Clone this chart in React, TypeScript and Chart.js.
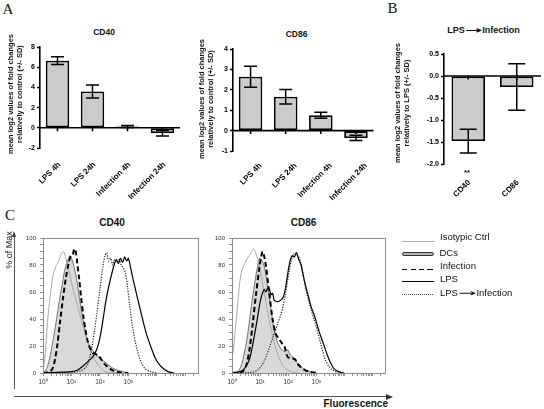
import React, { useEffect, useRef } from 'react';
import { Chart, registerables } from 'chart.js';

Chart.register(...registerables);

const SANS = "Arial, 'Liberation Sans', Helvetica, sans-serif";
const SERIF = "'Times New Roman', 'Liberation Serif', serif";

// ---------- Panel A : bar charts ----------
const aCategories = ['LPS 4h', 'LPS 24h', 'Infection 4h', 'Infection 24h'];
const cd40Means = [6.65, 3.6, 0.12, -0.53];
const cd40Sd = [0.38, 0.65, 0.1, 0.27];
const cd86Means = [2.64, 1.66, 0.75, -0.36];
const cd86Sd = [0.51, 0.35, 0.15, 0.13];

// ---------- Panel B ----------
const bCategories = ['CD40', 'CD86'];
const bMeans = [-1.48, -0.25];
const bSd = [0.27, 0.53];

// ---------- Panel C : histograms (x = log10 fluorescence, y = % of max) ----------
const histXTickLabels = ['10\u2070', '10\u00b9', '10\u00b2', '10\u00b3'];
const histYTickLabels = [0, 20, 40, 60, 80, 100];

const cd40IsoX = [0, 0.05, 0.1, 0.18, 0.27, 0.35, 0.45, 0.53, 0.6, 0.66, 0.72, 0.8, 0.9, 1.0, 1.12, 1.24, 1.35, 1.47, 1.58, 1.7, 1.82, 1.94, 2.06, 2.18, 2.35, 2.6];
const cd40IsoY = [2, 8, 20, 43, 60, 72, 79, 82, 86, 89, 90, 85, 77, 67, 57, 48, 39, 30, 22, 16, 10, 6, 3, 1, 0.5, 0];
const cd40DcX = [0, 0.1, 0.2, 0.3, 0.4, 0.5, 0.6, 0.68, 0.75, 0.83, 0.9, 0.95, 1.02, 1.1, 1.18, 1.25, 1.32, 1.4, 1.47, 1.55, 1.63, 1.71, 1.8, 1.88, 2.0, 2.12, 2.24, 2.36, 2.5, 2.65, 2.8, 3.0];
const cd40DcY = [0.5, 2, 8, 18, 30, 43, 57, 66, 75, 81, 85, 87, 84, 78, 70, 60, 50, 40, 33, 25, 21, 18, 15, 13, 11, 9, 7, 5, 3, 2, 1, 0];
const cd40InfX = [0, 0.25, 0.35, 0.42, 0.5, 0.6, 0.7, 0.8, 0.9, 0.98, 1.05, 1.1, 1.15, 1.2, 1.27, 1.34, 1.42, 1.5, 1.58, 1.66, 1.75, 1.85, 1.95, 2.05, 2.15, 2.25, 2.4, 2.55, 2.75, 3.0];
const cd40InfY = [0, 1, 4, 10, 20, 38, 55, 70, 81, 87, 88, 92, 90, 82, 70, 56, 42, 31, 23, 18, 15, 14, 13, 10, 7, 5, 2.5, 1, 0.3, 0];
const cd40LpsX = [0, 0.5, 1.0, 1.2, 1.4, 1.6, 1.75, 1.9, 2.0, 2.1, 2.2, 2.3, 2.4, 2.5, 2.58, 2.65, 2.72, 2.8, 2.87, 2.94, 3.0, 3.07, 3.15, 3.25, 3.35, 3.5, 3.65, 3.8, 3.95, 4.1, 4.25, 4.4, 4.6];
const cd40LpsY = [0, 0.5, 1, 2, 5, 9, 12, 18, 26, 38, 52, 63, 72, 80, 84, 81, 85, 82, 86, 83, 85, 79, 71, 62, 53, 40, 28, 19, 11, 6, 3, 1, 0];
const cd40LpsInfX = [0, 1.0, 1.3, 1.5, 1.6, 1.7, 1.8, 1.9, 2.0, 2.1, 2.18, 2.24, 2.3, 2.38, 2.45, 2.52, 2.6, 2.68, 2.75, 2.82, 2.9, 2.97, 3.05, 3.15, 3.3, 3.45, 3.6, 3.8, 4.0];
const cd40LpsInfY = [0, 0.5, 1.5, 4, 8, 17, 30, 45, 62, 78, 87, 89, 83, 85, 80, 84, 82, 84, 80, 78, 74, 64, 50, 34, 18, 8, 3, 1, 0];

const cd86IsoX = [0, 0.04, 0.1, 0.15, 0.21, 0.27, 0.35, 0.45, 0.55, 0.62, 0.7, 0.77, 0.84, 0.92, 1.0, 1.09, 1.18, 1.27, 1.36, 1.45, 1.56, 1.68, 1.8, 1.92, 2.05, 2.2, 2.4];
const cd86IsoY = [12, 16, 28, 40, 52, 66, 76, 81, 85, 87, 90, 92, 89, 84, 76, 66, 56, 45, 36, 27, 18, 11, 6, 3, 1.5, 0.5, 0];
const cd86DcX = [0, 0.2, 0.3, 0.39, 0.48, 0.56, 0.65, 0.74, 0.82, 0.9, 0.98, 1.05, 1.15, 1.27, 1.39, 1.5, 1.6, 1.68, 1.78, 1.86, 1.93, 1.99, 2.06, 2.15, 2.27, 2.39, 2.5, 2.62, 2.8, 3.0];
const cd86DcY = [0, 1, 4, 10, 19, 29, 43, 57, 68, 78, 85, 84, 79, 64, 47, 32, 24, 20, 17, 16, 17, 17, 14, 12, 9, 6, 4, 2, 1, 0];
const cd86InfX = [0, 0.3, 0.42, 0.5, 0.62, 0.74, 0.86, 0.98, 1.04, 1.09, 1.15, 1.21, 1.33, 1.45, 1.56, 1.68, 1.78, 1.86, 1.93, 1.98, 2.06, 2.15, 2.25, 2.33, 2.42, 2.5, 2.62, 2.74, 3.0];
const cd86InfY = [0, 0.5, 2, 5, 17, 37, 59, 79, 86, 90, 86, 79, 59, 39, 29, 25, 22, 20, 15, 12, 11, 11, 10, 7, 5, 3.5, 2, 1, 0];
const cd86LpsX = [0, 0.2, 0.39, 0.5, 0.62, 0.7, 0.8, 0.9, 0.98, 1.04, 1.1, 1.15, 1.21, 1.27, 1.33, 1.39, 1.45, 1.5, 1.58, 1.66, 1.74, 1.82, 1.9, 1.96, 2.02, 2.08, 2.15, 2.22, 2.3, 2.38, 2.46, 2.55, 2.64, 2.73, 2.82, 2.91, 3.0, 3.1, 3.2, 3.3, 3.4, 3.5, 3.62, 3.75, 3.88, 4.0];
const cd86LpsY = [0, 0.5, 2, 5, 10, 17, 28, 40, 50, 56, 60, 62, 60, 63, 62, 58, 59, 54, 53, 53, 54, 56, 62, 70, 78, 84, 87, 86, 89, 84, 80, 71, 63, 56, 49, 44, 38, 31, 25, 19, 13, 8, 3.5, 1.5, 0.5, 0];
const cd86LpsInfX = [0, 0.7, 0.9, 1.04, 1.15, 1.25, 1.35, 1.45, 1.55, 1.65, 1.74, 1.82, 1.9, 1.97, 2.05, 2.12, 2.2, 2.27, 2.33, 2.4, 2.48, 2.56, 2.64, 2.73, 2.82, 2.92, 3.02, 3.12, 3.22, 3.32, 3.45, 3.6, 3.8];
const cd86LpsInfY = [0, 0.5, 2, 5, 9, 14, 20, 26, 32, 38, 43, 50, 58, 67, 77, 84, 88, 89, 87, 85, 79, 70, 61, 54, 47, 40, 33, 25, 17, 10, 5, 2, 0];

const HIST_XMAX = 5.45;
const MINOR_OFFSETS = [0.301, 0.477, 0.602, 0.699, 0.778, 0.845, 0.903, 0.954];

type Rect = { left: number; top: number; width: number; height: number };
type Area = { left: number; top: number; right: number; bottom: number };

function fitLayout(rect: Rect, area: Area) {
  return {
    padding: { top: area.top - rect.top, right: rect.left + rect.width - area.right, left: 0, bottom: 0 },
    yWidth: area.left - rect.left,
    xHeight: rect.top + rect.height - area.bottom,
  };
}

function barDecor(errors: number[], cap: number) {
  return {
    id: 'barDecor',
    afterDatasetsDraw(chart: any) {
      const ctx = chart.ctx;
      const y = chart.scales.y;
      const a = chart.chartArea;
      const meta = chart.getDatasetMeta(0);
      const means = chart.data.datasets[0].data as number[];
      ctx.save();
      ctx.strokeStyle = '#000';
      ctx.lineWidth = 1.5;
      meta.data.forEach((el: any, i: number) => {
        const x = el.x;
        const y1 = y.getPixelForValue(means[i] + errors[i]);
        const y2 = y.getPixelForValue(means[i] - errors[i]);
        ctx.beginPath();
        ctx.moveTo(x, y1); ctx.lineTo(x, y2);
        ctx.moveTo(x - cap, y1); ctx.lineTo(x + cap, y1);
        ctx.moveTo(x - cap, y2); ctx.lineTo(x + cap, y2);
        ctx.stroke();
      });
      const y0 = y.getPixelForValue(0);
      ctx.lineWidth = 1.6;
      ctx.beginPath();
      ctx.moveTo(a.left, y0); ctx.lineTo(a.right, y0);
      meta.data.forEach((el: any) => { ctx.moveTo(el.x, y0); ctx.lineTo(el.x, y0 + 3.5); });
      ctx.stroke();
      ctx.restore();
    },
  };
}

type BarOpts = { yMin: number; yMax: number; step: number; decimals: number; cap: number; barPct: number; labelPad: number; labelShift: number };

function makeBar(canvas: HTMLCanvasElement, rect: Rect, area: Area, labels: string[], means: number[], errors: number[], o: BarOpts) {
  const L = fitLayout(rect, area);
  const tickFont = { family: SANS, size: 7, weight: 'bold' as const };
  return new Chart(canvas, {
    type: 'bar',
    data: {
      labels,
      datasets: [{
        data: means, backgroundColor: '#cbcbcb', borderColor: '#000', borderWidth: 1.8,
        borderSkipped: false, barPercentage: o.barPct, categoryPercentage: 1,
      }],
    },
    options: {
      responsive: false, animation: false, events: [],
      layout: { padding: L.padding },
      plugins: { legend: { display: false }, tooltip: { enabled: false }, title: { display: false } },
      scales: {
        x: {
          grid: { display: false, drawTicks: false }, border: { display: false },
          ticks: {
            autoSkip: false, maxRotation: 45, minRotation: 45, padding: o.labelPad, labelOffset: o.labelShift,
            color: '#000', font: { family: SANS, size: 8, weight: 'bold' },
          },
          afterFit: (s: any) => { s.height = L.xHeight; s.paddingLeft = 0; s.paddingRight = 0; },
        },
        y: {
          min: o.yMin, max: o.yMax,
          ticks: {
            stepSize: o.step, color: '#000', padding: 2, font: tickFont,
            callback: (v: any) => (Math.abs(Number(v)) < 1e-9 ? 0 : Number(v)).toFixed(o.decimals),
          },
          grid: { drawOnChartArea: false, drawTicks: true, tickLength: 3, tickColor: '#000', tickWidth: 1.3 },
          border: { display: true, color: '#000', width: 1.6 },
          afterFit: (s: any) => { s.width = L.yWidth; s.paddingTop = 0; s.paddingBottom = 0; },
        },
      },
    } as any,
    plugins: [barDecor(errors, o.cap)],
  });
}

const framePlugin = {
  id: 'frame',
  afterDatasetsDraw(chart: any) {
    const a = chart.chartArea;
    const ctx = chart.ctx;
    ctx.save();
    ctx.strokeStyle = '#8a8a8a';
    ctx.lineWidth = 1;
    ctx.strokeRect(Math.round(a.left) + 0.5, Math.round(a.top) + 0.5, Math.round(a.right - a.left), Math.round(a.bottom - a.top));
    ctx.restore();
  },
};

const pts = (xs: number[], ys: number[]) => xs.map((x, i) => ({ x, y: ys[i] }));

type HistData = {
  iso: [number[], number[]]; dc: [number[], number[]]; inf: [number[], number[]];
  lps: [number[], number[]]; lpsInf: [number[], number[]];
};

function makeHist(canvas: HTMLCanvasElement, rect: Rect, area: Area, d: HistData) {
  const L = fitLayout(rect, area);
  const xTicks: number[] = [];
  for (let dec = 0; dec <= 5; dec++) {
    xTicks.push(dec);
    MINOR_OFFSETS.forEach((o) => { if (dec + o < HIST_XMAX) xTicks.push(dec + o); });
  }
  const yTicks: number[] = [];
  for (let v = 0; v <= 100; v += 5) yTicks.push(v);
  const common = { pointRadius: 0, tension: 0.3, fill: false };
  return new Chart(canvas, {
    type: 'line',
    data: {
      datasets: [
        { ...common, label: 'DCs', data: pts(d.dc[0], d.dc[1]), fill: 'origin', backgroundColor: '#d9d9d9', borderColor: '#555', borderWidth: 0.8, order: 5 },
        { ...common, label: 'Isotypic Ctrl', data: pts(d.iso[0], d.iso[1]), borderColor: '#a8a8a8', borderWidth: 1, order: 4 },
        { ...common, label: 'LPS \u2192 Infection', data: pts(d.lpsInf[0], d.lpsInf[1]), borderColor: '#222', borderWidth: 1.2, borderDash: [1.2, 1.4], order: 3 },
        { ...common, label: 'LPS', data: pts(d.lps[0], d.lps[1]), borderColor: '#000', borderWidth: 1.2, order: 2 },
        { ...common, label: 'Infection', data: pts(d.inf[0], d.inf[1]), borderColor: '#000', borderWidth: 2, borderDash: [5, 3], order: 1 },
      ],
    },
    options: {
      responsive: false, animation: false, events: [],
      layout: { padding: L.padding },
      plugins: { legend: { display: false }, tooltip: { enabled: false } },
      scales: {
        x: {
          type: 'linear', min: 0, max: HIST_XMAX,
          afterBuildTicks: (s: any) => { s.ticks = xTicks.map((v) => ({ value: v })); },
          ticks: {
            autoSkip: false, maxRotation: 0, minRotation: 0, padding: 2, color: '#333',
            font: { family: SANS, size: 6.5 },
            callback: (v: any) => {
              const n = Number(v);
              return Number.isInteger(n) && n < histXTickLabels.length ? histXTickLabels[n] : '';
            },
          },
          grid: { drawOnChartArea: false, drawTicks: true, tickLength: 3, tickColor: '#777', tickWidth: 0.8 },
          border: { display: false },
          afterFit: (s: any) => { s.height = L.xHeight; s.paddingLeft = 0; s.paddingRight = 0; },
        },
        y: {
          min: 0, max: 100,
          afterBuildTicks: (s: any) => { s.ticks = yTicks.map((v) => ({ value: v })); },
          ticks: {
            autoSkip: false, padding: 4, color: '#333', font: { family: SANS, size: 6 },
            callback: (v: any) => (histYTickLabels.includes(Number(v)) ? String(v) : ''),
          },
          grid: { drawOnChartArea: false, drawTicks: true, tickLength: 3, tickColor: '#777', tickWidth: 0.8 },
          border: { display: false },
          afterFit: (s: any) => { s.width = L.yWidth; s.paddingTop = 0; s.paddingBottom = 0; },
        },
      },
    } as any,
    plugins: [framePlugin],
  });
}

function ChartCanvas({ rect, make }: { rect: Rect; make: (c: HTMLCanvasElement) => Chart }) {
  const ref = useRef<HTMLCanvasElement>(null);
  useEffect(() => {
    const chart = make(ref.current as HTMLCanvasElement);
    return () => chart.destroy();
  }, []);
  return (
    <canvas ref={ref} width={rect.width} height={rect.height}
      style={{ position: 'absolute', left: rect.left, top: rect.top, width: rect.width, height: rect.height }} />
  );
}

type TProps = { x: number; y: number; size: number; bold?: boolean; rot?: number; family?: string; lh?: number; anchor?: 'center' | 'left' | 'right'; color?: string; children: any };
function T({ x, y, size, bold, rot, family, lh, anchor, color, children }: TProps) {
  const tx = anchor === 'left' ? '0' : anchor === 'right' ? '-100%' : '-50%';
  return (
    <div style={{
      position: 'absolute', left: x, top: y, transform: `translate(${tx},-50%) rotate(${rot || 0}deg)`,
      fontSize: size, fontWeight: bold ? 'bold' : 'normal', fontFamily: family || SANS, whiteSpace: 'nowrap',
      lineHeight: lh ? `${lh}px` : 1, textAlign: 'center', color: color || '#111',
    }}>{children}</div>
  );
}

const Arrow = ({ size }: { size: number }) => (
  <span style={{ display: 'inline-block', transform: 'scaleX(2.3)', margin: `0 ${size * 0.55}px`, fontFamily: "'DejaVu Sans', sans-serif" }}>{'\u2192'}</span>
);

const rA1: Rect = { left: 22, top: 40, width: 168, height: 175 };
const aA1: Area = { left: 40, top: 47, right: 180, bottom: 148 };
const rA2: Rect = { left: 214, top: 40, width: 166, height: 175 };
const aA2: Area = { left: 233, top: 49, right: 373.5, bottom: 151 };
const rB: Rect = { left: 414, top: 40, width: 130, height: 175 };
const aB: Area = { left: 444, top: 54, right: 541, bottom: 164 };
const rC1: Rect = { left: 20, top: 232, width: 182, height: 160 };
const aC1: Area = { left: 43, top: 238, right: 198, bottom: 373 };
const rC2: Rect = { left: 209, top: 232, width: 180, height: 160 };
const aC2: Area = { left: 232, top: 238, right: 385, bottom: 373 };

export default function App() {
  const yTitleA = (
    <>mean log2 values of fold changes<br />relatively to control (+/- SD)</>
  );
  return (
    <div style={{ position: 'fixed', left: 0, top: 0, width: 544, height: 409, background: '#fff', overflow: 'hidden' }}>
      <T x={8} y={9} size={15} family={SERIF}>A</T>
      <T x={392.5} y={8} size={15} family={SERIF}>B</T>
      <T x={10} y={214.5} size={15} family={SERIF}>C</T>

      <ChartCanvas rect={rA1} make={(c) => makeBar(c, rA1, aA1, aCategories, cd40Means, cd40Sd,
        { yMin: -2, yMax: 8, step: 2, decimals: 0, cap: 6.5, barPct: 0.67, labelPad: 12, labelShift: 2 })} />
      <ChartCanvas rect={rA2} make={(c) => makeBar(c, rA2, aA2, aCategories, cd86Means, cd86Sd,
        { yMin: -1, yMax: 4, step: 1, decimals: 0, cap: 6.5, barPct: 0.67, labelPad: 10, labelShift: 10 })} />
      <ChartCanvas rect={rB} make={(c) => makeBar(c, rB, aB, bCategories, bMeans, bSd,
        { yMin: -2, yMax: 0.5, step: 0.5, decimals: 1, cap: 8.5, barPct: 0.69, labelPad: 14, labelShift: 1 })} />

      <T x={104} y={31.5} size={8.5} bold>CD40</T>
      <T x={296.5} y={34} size={8.5} bold>CD86</T>
      <T x={483.5} y={30} size={9} bold>LPS<Arrow size={9} />Infection</T>
      <T x={467} y={173} size={8} bold>**</T>

      <T x={15} y={94} size={7.5} bold rot={-90} lh={9}>{yTitleA}</T>
      <T x={206} y={98.5} size={7.5} bold rot={-90} lh={9}>{yTitleA}</T>
      <T x={401.5} y={103} size={7.5} bold rot={-90} lh={9}>mean log2 values of fold changes<br />relatively to LPS (+/- SD)</T>

      <ChartCanvas rect={rC1} make={(c) => makeHist(c, rC1, aC1, {
        iso: [cd40IsoX, cd40IsoY], dc: [cd40DcX, cd40DcY], inf: [cd40InfX, cd40InfY], lps: [cd40LpsX, cd40LpsY], lpsInf: [cd40LpsInfX, cd40LpsInfY],
      })} />
      <ChartCanvas rect={rC2} make={(c) => makeHist(c, rC2, aC2, {
        iso: [cd86IsoX, cd86IsoY], dc: [cd86DcX, cd86DcY], inf: [cd86InfX, cd86InfY], lps: [cd86LpsX, cd86LpsY], lpsInf: [cd86LpsInfX, cd86LpsInfY],
      })} />

      <T x={112} y={222.5} size={10} bold>CD40</T>
      <T x={303.5} y={223} size={10} bold>CD86</T>

      <T x={8.5} y={250} size={9} rot={-90}>% of Max</T>
      <div style={{ position: 'absolute', left: 14, top: 236, width: 1, height: 153, background: '#555' }} />
      <div style={{ position: 'absolute', left: 12, top: 231, width: 0, height: 0, borderLeft: '2.5px solid transparent', borderRight: '2.5px solid transparent', borderBottom: '6px solid #333' }} />
      <div style={{ position: 'absolute', left: 14, top: 396, width: 372, height: 1, background: '#555' }} />
      <div style={{ position: 'absolute', left: 386, top: 393.5, width: 0, height: 0, borderTop: '3px solid transparent', borderBottom: '3px solid transparent', borderLeft: '7px solid #333' }} />
      <T x={388} y={403.5} size={10} bold anchor="right">Fluorescence</T>

      <div style={{ position: 'absolute', left: 402, top: 241, width: 33, height: 1, background: '#b0b0b0' }} />
      <div style={{ position: 'absolute', left: 402, top: 251.5, width: 30, height: 2.5, background: '#b8b8b8', border: '1px solid #333', borderRadius: 2 }} />
      <div style={{ position: 'absolute', left: 402, top: 268.5, width: 32, height: 1.5, background: 'repeating-linear-gradient(to right, #000 0 5px, transparent 5px 8.5px)' }} />
      <div style={{ position: 'absolute', left: 402, top: 281, width: 32, height: 1, background: '#000' }} />
      <div style={{ position: 'absolute', left: 402, top: 294, width: 32, height: 1, background: 'repeating-linear-gradient(to right, #444 0 1px, transparent 1px 2px)' }} />
      <T x={440} y={237} size={9.5} anchor="left">Isotypic Ctrl</T>
      <T x={439.5} y={253} size={9.5} anchor="left">DCs</T>
      <T x={440} y={266} size={9.5} anchor="left">Infection</T>
      <T x={440} y={279} size={9.5} anchor="left">LPS</T>
      <T x={440} y={292.5} size={9.5} anchor="left">LPS<Arrow size={9.5} />Infection</T>
    </div>
  );
}
